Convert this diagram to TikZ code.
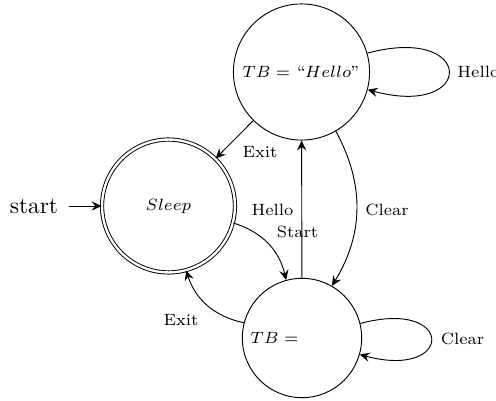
\documentclass[tikz,border=0pt]{standalone}
\usetikzlibrary{arrows.meta}
\begin{document}
\begin{tikzpicture}[x=0.429pt,y=0.429pt,
  statenode/.style={circle,draw,inner sep=0pt,font=\scriptsize},
  acceptnode/.style={statenode,double,double distance=1pt},
  lbl/.style={font=\scriptsize,inner sep=0pt},
  edge/.style={-{Stealth[length=4.3pt,width=4pt,inset=1.6pt]}}]
\useasboundingbox (0,0) rectangle (496,400);
\node[statenode,minimum size=58.4pt] (hello) at (301.5,328) {$TB = ``Hello"$};
\node[acceptnode,minimum size=57pt] (sleep) at (168.5,194) {$Sleep$};
\node[statenode,minimum size=51.2pt] (tbe) at (302,62) {};
\node[lbl] (tbetext) at (274.5,62) {$TB =$};
\node[inner sep=4.3pt] (startlbl) at (34,194) {start};
\draw[edge] (startlbl) -- (sleep);
\draw[edge] (hello) -- (sleep);
\draw[edge] (sleep) to[bend left=30] (tbe);
\draw[edge] (tbe) -- (hello);
\draw[edge] (hello) to[bend left=30] (tbe);
\draw[edge] (tbe) to[bend left=30] (sleep);
\draw[edge] (hello.16) .. controls +(15:112) and +(-15:112) .. (hello.-15);
\draw[edge] (tbe.14) .. controls +(15:98) and +(-15:98) .. (tbe.-16);
\node[lbl] (l1) at (260,248) {Exit};
\node[lbl] (l2) at (272.5,190) {Hello};
\node[lbl] (l3) at (297.5,168) {Start};
\node[lbl] (l4) at (387,190) {Clear};
\node[lbl] (l5) at (181,80) {Exit};
\node[lbl,anchor=west] (l6) at (457,328) {Hello};
\node[lbl] (l7) at (462.5,61) {Clear};
\end{tikzpicture}
\end{document}
